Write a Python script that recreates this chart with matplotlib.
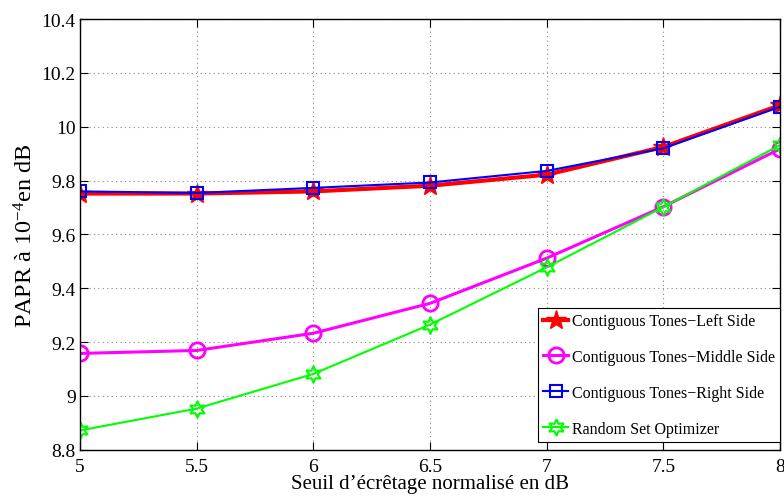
import matplotlib
matplotlib.use('Agg')
import matplotlib.pyplot as plt

plt.rcParams['font.family'] = ['Liberation Serif', 'DejaVu Serif']
plt.rcParams['mathtext.fontset'] = 'custom'
plt.rcParams['mathtext.rm'] = 'Liberation Serif'
plt.rcParams['mathtext.it'] = 'Liberation Serif:italic'

# données
seuil = [5, 5.5, 6, 6.5, 7, 7.5, 8]
left_side = [9.752, 9.752, 9.760, 9.781, 9.822, 9.925, 10.080]
middle_side = [9.158, 9.169, 9.233, 9.344, 9.512, 9.703, 9.918]
right_side = [9.760, 9.754, 9.773, 9.793, 9.836, 9.920, 10.074]
random_set = [8.872, 8.953, 9.082, 9.265, 9.478, 9.702, 9.932]

labels = ['Contiguous Tones\u2212Left Side', 'Contiguous Tones\u2212Middle Side',
          'Contiguous Tones\u2212Right Side', 'Random Set Optimizer']

fig = plt.figure(figsize=(7.84, 5.02), dpi=100)
ax = fig.add_axes([0.102, 0.102, 0.893, 0.858])

ax.plot(seuil, left_side, color='#ff0000', linewidth=3, marker='*', markersize=15,
        label=labels[0])
ax.plot(seuil, middle_side, color='#ff00ff', linewidth=2.2, marker='o', markersize=11,
        markerfacecolor='none', markeredgewidth=2, label=labels[1])
ax.plot(seuil, right_side, color='#0000ff', linewidth=1.5, marker='s', markersize=9,
        markerfacecolor='none', markeredgewidth=1.5, label=labels[2])
ax.plot(seuil, random_set, color='#00ff00', linewidth=1.5, marker=(6, 1, 0), markersize=12,
        markerfacecolor='none', markeredgewidth=1.5, label=labels[3])

ax.set_xlim(5, 8)
ax.set_ylim(8.8, 10.4)
ax.set_xticks([5, 5.5, 6, 6.5, 7, 7.5, 8])
ax.set_xticklabels(['5', '5.5', '6', '6.5', '7', '7.5', '8'])
ax.set_yticks([8.8, 9, 9.2, 9.4, 9.6, 9.8, 10, 10.2, 10.4])
ax.set_yticklabels(['8.8', '9', '9.2', '9.4', '9.6', '9.8', '10', '10.2', '10.4'])
ax.tick_params(direction='in', top=True, right=True, labelsize=14, length=6)
ax.tick_params(axis='x', pad=6)
ax.tick_params(axis='y', pad=3)
ax.grid(True, linestyle=(0, (1, 3)), color='#888888', linewidth=0.8)

ax.set_xlabel('Seuil d\u2019\u00e9cr\u00eatage normalis\u00e9 en dB', fontsize=15, labelpad=-1)
ax.set_ylabel('PAPR \u00e0 10$^{-4}$en dB', fontsize=17.5, labelpad=3)

leg = ax.legend(loc='lower right', bbox_to_anchor=(1, 8 / 431), fontsize=11.5, numpoints=1,
                fancybox=False, edgecolor='black', framealpha=1, borderaxespad=0,
                borderpad=0.3, handlelength=1.6, labelspacing=1.25, handletextpad=0.25)
leg.get_frame().set_linewidth(0.8)

for s in ax.spines.values():
    s.set_linewidth(1)

fig.savefig('out.png', dpi=100)
